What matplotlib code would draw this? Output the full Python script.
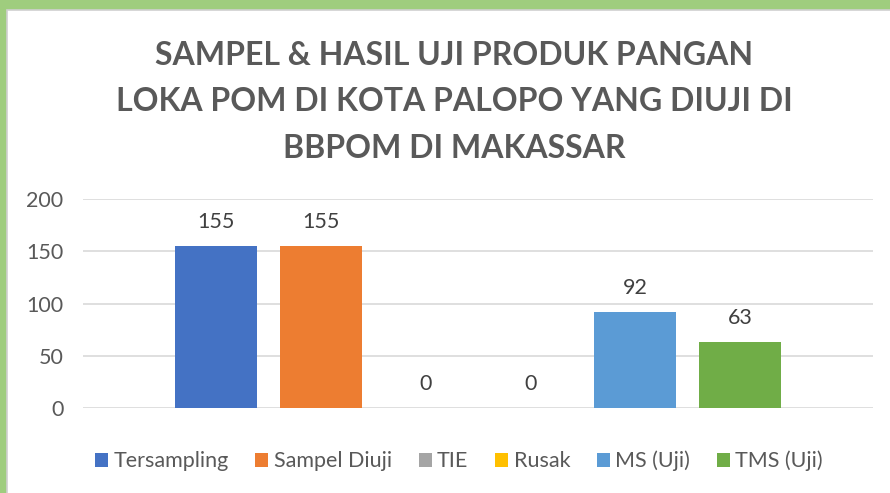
import matplotlib
matplotlib.use("Agg")
import matplotlib.pyplot as plt
from matplotlib.patches import Rectangle

categories = ["Tersampling", "Sampel Diuji", "TIE", "Rusak", "MS (Uji)", "TMS (Uji)"]
values = [155, 155, 0, 0, 92, 63]
colors = ["#4472C4", "#ED7D31", "#A5A5A5", "#FFC000", "#5B9BD5", "#70AD47"]
yticks = [0, 50, 100, 150, 200]
title = "SAMPEL & HASIL UJI PRODUK PANGAN\nLOKA POM DI KOTA PALOPO YANG DIUJI DI\nBBPOM DI MAKASSAR"

plt.rcParams['font.family'] = ['Lato', 'DejaVu Sans']
W, H = 890, 493
fig = plt.figure(figsize=(W/100, H/100), dpi=100, facecolor="#9FCD7E")
# white panel
panel = Rectangle((7/W, -0.01), 1.01, 1.01 - 10/H, transform=fig.transFigure,
                  facecolor="white", edgecolor="#D0D0D0", lw=1.2, zorder=-10)
fig.patches.append(panel)

ax = fig.add_axes([83/W, 1 - 408/H, (873-83)/W, (408-199)/H])
ax.set_zorder(5)
ax.set_facecolor("none")
n = len(categories)
offs = [i - (n-1)/2 for i in range(n)]
bars = []
for o, v, c, lab in zip(offs, values, colors, categories):
    b = ax.bar(o, v, width=0.78, color=c, label=lab, zorder=3)
    bars.append(b)
    ax.bar_label(b, labels=[str(v)], padding=10, fontsize=15.5, color="#404040")
ax.set_xlim(-3.77, 3.77)
ax.set_ylim(0, 200)
ax.set_yticks(yticks)
ax.set_xticks([])
ax.grid(axis="y", color="#D9D9D9", lw=1.2, zorder=0)
for s in ax.spines.values():
    s.set_visible(False)
ax.tick_params(axis="y", length=0, pad=14, labelsize=15.5, labelcolor="#595959")

fig.text(454/W, 1 - 41/H, title, ha="center", va="top", fontsize=23, fontweight="bold",
         color="#595959", linespacing=1.72, zorder=6)

fig.legend(handles=[b[0] for b in bars], labels=categories, ncol=6, loc="center",
           bbox_to_anchor=(459/W, 1 - 461/H), frameon=False, fontsize=15.5,
           labelcolor="#595959", handlelength=0.6, handleheight=0.6,
           handletextpad=0.25, columnspacing=1.25, borderaxespad=0)

fig.savefig("out.png", dpi=100, facecolor=fig.get_facecolor())
